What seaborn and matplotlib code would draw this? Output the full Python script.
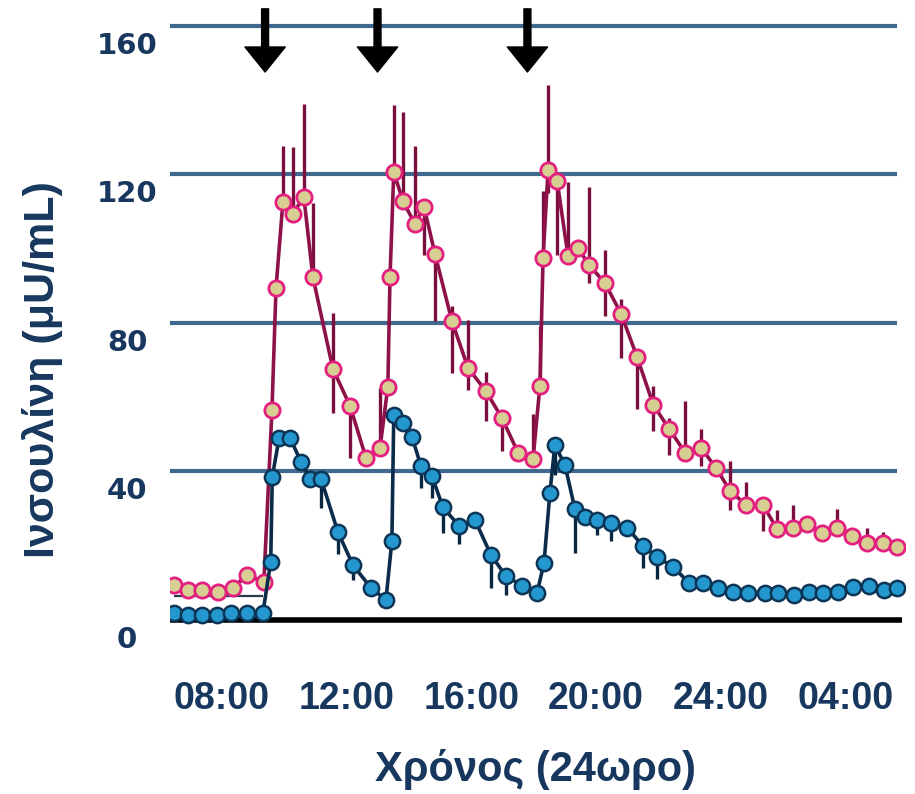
import numpy as np
import pandas as pd
import seaborn as sns
import matplotlib.pyplot as plt
import matplotlib.transforms as mtransforms

# time of day in hours (values > 24 are after midnight)
pink_t = [6.48, 6.93, 7.38, 7.89, 8.37, 8.82, 9.36, 9.62, 9.75, 9.97, 10.29, 10.64, 10.93,
          11.57, 12.12, 12.63, 13.08, 13.33, 13.40, 13.52, 13.81, 14.20, 14.49, 14.84, 15.38,
          15.90, 16.47, 16.98, 17.50, 17.98, 18.20, 18.30, 18.46, 18.75, 19.10, 19.42, 19.77,
          20.28, 20.80, 21.31, 21.83, 22.34, 22.85, 23.36, 23.84, 24.29, 24.80, 25.34, 25.79,
          26.30, 26.75, 27.23, 27.71, 28.19, 28.67, 29.18, 29.63]
pink_v = [9.4, 8.1, 8.1, 7.5, 8.6, 12.1, 10.2, 56.5, 89.4, 112.5, 109.3, 113.9, 92.3,
          67.6, 57.6, 43.6, 46.3, 62.7, 92.3, 120.6, 112.8, 106.6, 111.2, 98.5, 80.5,
          67.8, 61.6, 54.4, 45.0, 43.3, 63.0, 97.4, 121.0, 118.2, 98.0, 100.1, 95.6,
          90.7, 82.4, 70.8, 57.9, 51.4, 45.0, 46.3, 40.9, 34.7, 31.0, 31.0, 24.5,
          24.8, 25.8, 23.4, 24.8, 22.6, 20.7, 20.7, 19.7]
pink_lo = [0, 0, 0, 0, 0, 0, 0, 0, 0, 0, 0, 0, 0,
           12, 14, 0, 0, 0, 0, 0, 0, 0, 13, 18, 14,
           6, 8, 9, 0, 0, 0, 0, 6, 20, 0, 0, 5,
           9, 12, 14, 7, 7, 0, 5, 0, 5, 0, 7, 0,
           0, 0, 0, 0, 0, 0, 0, 0]
pink_hi = [2, 0, 0, 0, 0, 0, 0, 0, 0, 15, 18, 25, 20,
           15, 0, 0, 16, 0, 0, 18, 24, 21, 0, 0, 4,
           13, 5, 0, 0, 12, 16, 18, 23, 0, 20, 0, 21,
           9, 4, 0, 5, 3, 14, 5, 0, 8, 6, 0, 5,
           6, 0, 0, 5, 0, 4, 3, 0]

blue_t = [6.48, 6.93, 7.38, 7.86, 8.31, 8.82, 9.33, 9.58, 9.63, 9.85, 10.20, 10.55, 10.84,
          11.19, 11.73, 12.21, 12.79, 13.27, 13.46, 13.52, 13.81, 14.10, 14.39, 14.74, 15.09,
          15.61, 16.12, 16.63, 17.11, 17.63, 18.11, 18.33, 18.52, 18.68, 19.00, 19.32, 19.64,
          20.03, 20.48, 20.99, 21.50, 21.95, 22.46, 22.97, 23.42, 23.90, 24.38, 24.86, 25.41,
          25.82, 26.34, 26.82, 27.27, 27.75, 28.23, 28.74, 29.23, 29.64]
blue_v = [1.9, 1.3, 1.3, 1.3, 1.9, 1.9, 1.9, 15.6, 38.5, 49.0, 49.0, 42.5, 38.0,
          38.0, 23.7, 14.8, 8.6, 5.4, 21.3, 55.2, 53.0, 49.3, 41.5, 38.8, 30.4,
          25.3, 26.9, 17.5, 11.8, 9.2, 7.3, 15.3, 34.2, 47.1, 41.7, 29.9, 27.7,
          26.9, 26.1, 24.8, 19.9, 16.9, 14.3, 10.0, 10.0, 8.6, 7.5, 7.3, 7.3,
          7.3, 6.7, 7.5, 7.3, 7.5, 8.9, 9.2, 8.1, 8.6]
blue_lo = [0, 0, 0, 0, 0, 0, 0, 0, 0, 0, 0, 0, 0,
           8, 6, 4, 0, 0, 0, 0, 0, 0, 6, 6, 7,
           5, 0, 9, 5, 0, 0, 0, 0, 8, 0, 12, 0,
           4, 5, 0, 6, 6, 0, 0, 0, 0, 0, 0, 0,
           0, 0, 0, 0, 0, 0, 0, 0, 0]

meal_times = [9.4, 13.0, 17.8]
tick_hours = [8, 12, 16, 20, 24, 28]
tick_labels = ["08:00", "12:00", "16:00", "20:00", "24:00", "04:00"]
grid_levels = [40, 80, 120, 160]
fasting_ref = 6.5

pink = pd.DataFrame({"t": pink_t, "v": pink_v, "lo": pink_lo, "hi": pink_hi})
blue = pd.DataFrame({"t": blue_t, "v": blue_v, "lo": blue_lo})

sns.set_style("white")
plt.rcParams['font.family'] = ['Liberation Sans', 'DejaVu Sans']

navy = "#17375E"
fig = plt.figure(figsize=(9.15, 7.94), dpi=100)
ax = fig.add_axes([170 / 915, 1 - 631 / 794, 735 / 915, 627.7 / 794])

# grid + baseline
ax.hlines(grid_levels, 6.35, 29.63, color="#41698F", lw=3, zorder=1)
ax.hlines(0, 6.35, 29.8, color="black", lw=4, zorder=1, clip_on=False)
ax.hlines(fasting_ref, 6.48, 9.33, color="#2B3A4A", lw=1.6, zorder=1)

# error bars
pe = pink[(pink.lo + pink.hi) > 0]
ax.vlines(pe.t, pe.v - pe.lo, pe.v + pe.hi, color="#7A0F3E", lw=2.4, zorder=2)
be = blue[blue.lo > 0]
ax.vlines(be.t, be.v - be.lo, be.v, color="#0B2640", lw=2.4, zorder=2)

sns.lineplot(data=pink, x="t", y="v", sort=False, ax=ax, color="#8E1249", lw=2.6,
             marker="o", markersize=11, markerfacecolor="#D8CE92",
             markeredgecolor="#E3207F", markeredgewidth=2, zorder=3)
sns.lineplot(data=blue, x="t", y="v", sort=False, ax=ax, color="#0B2B4A", lw=2.6,
             marker="o", markersize=11, markerfacecolor="#2597CF",
             markeredgecolor="#0D3556", markeredgewidth=1.8, zorder=4)

# meal arrows
for t in meal_times:
    ax.annotate("", xy=(t, 147.5), xytext=(t, 164.5),
                arrowprops=dict(facecolor="black", edgecolor="black", width=5,
                                headwidth=29, headlength=18), zorder=5)

ax.set_xlim(6.355, 29.89)
ax.set_ylim(-3, 166)
sns.despine(ax=ax, left=True, bottom=True)

ax.set_xticks(tick_hours)
ax.set_xticklabels(tick_labels, fontsize=27, fontweight="bold", color=navy)
ax.tick_params(axis="x", length=0, pad=36)

ax.set_yticks([0] + grid_levels)
ax.set_yticklabels(["0", "40", "80", "120", "160"], fontsize=21, fontweight="bold",
                   color=navy, family="DejaVu Sans")
ax.tick_params(axis="y", length=0, pad=31)
offset = mtransforms.ScaledTranslation(0, -0.17, fig.dpi_scale_trans)
for lab in ax.get_yticklabels():
    lab.set_ha("center")
    lab.set_transform(lab.get_transform() + offset)

ax.set_xlabel("Χρόνος (24ωρο)", fontsize=30, fontweight="bold", color=navy)
ax.set_ylabel("Ινσουλίνη (μU/mL)", fontsize=31, fontweight="bold", color=navy)
ax.xaxis.set_label_coords(0.497, -0.221)
ax.xaxis.label.set_va("center")
ax.yaxis.set_label_coords(-0.174, 0.416)
ax.yaxis.label.set_va("center")

fig.savefig("out.png", dpi=100)
